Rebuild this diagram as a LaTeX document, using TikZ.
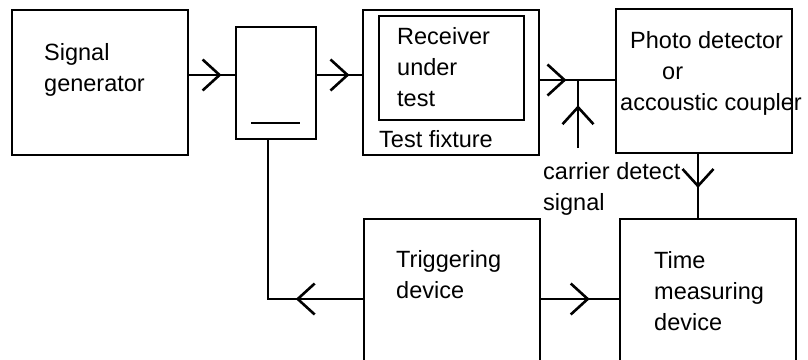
\documentclass[tikz,border=0pt]{standalone}
\usepackage{fontspec}
\setmainfont{Liberation Sans}
\usetikzlibrary{decorations.markings}

\tikzset{
  blk/.style={draw, line width=2.6pt, inner sep=0pt},
  txt/.style={inner sep=0pt, anchor=base west, align=left,
    font=\fontsize{23.5}{31}\selectfont},
  conn/.style={line width=2.6pt},
  mid/.style={postaction={decorate}, decoration={markings,
    mark=at position #1 with {\draw[line width=2.6pt] (-17pt,-15.5pt) -- (0,0) -- (-17pt,15.5pt);}}}
}

\begin{document}
\begin{tikzpicture}[x=1pt, y=-1pt]

  \path[use as bounding box, clip] (0,0) rectangle (808,359);

  % blocks
  \node[blk, minimum width=176pt, minimum height=145pt] (gen) at (100,82.5) {};
  \node[blk, minimum width=80pt, minimum height=112pt] (split) at (276,83) {};
  \node[blk, minimum width=176pt, minimum height=145pt] (fix) at (451,82.5) {};
  \node[blk, minimum width=145pt, minimum height=104pt] (rx) at (451.5,68) {};
  \node[blk, minimum width=176pt, minimum height=144pt] (photo) at (704,81) {};
  \node[blk, minimum width=176pt, minimum height=160pt] (trig) at (452,299) {};
  \node[blk, minimum width=176pt, minimum height=160pt] (time) at (708,299) {};

  \draw[conn] (251,123) -- (300,123);

  % labels (anchored on the last line)
  \node[txt] (gentxt) at (44,91) {Signal\\generator};
  \node[txt] (rxtxt) at (397,106) {Receiver\\under\\test};
  \node[txt] (fixtxt) at (379,147) {Test fixture};
  \node[txt] (phototxt) at (630,79) {Photo detector\\\hspace*{32pt}or};
  \node[txt] (coupler) at (620,110) {accoustic coupler};
  \node[txt] (cdtxt) at (543,210) {carrier detect\\signal};
  \node[txt] (trigtxt) at (396,298) {Triggering\\device};
  \node[txt] (timetxt) at (654,330) {Time\\measuring\\device};

  % connectors
  \coordinate (cd) at (578,148);
  \coordinate (jn) at (578,80);
  \draw[conn, mid=0.667] (gen.east |- 0,75) -- (split.west |- 0,75);
  \draw[conn, mid=0.68] (split.east |- 0,75) -- (fix.west |- 0,75);
  \draw[conn, mid=0.325] (fix.east |- jn) -- (photo.west |- jn);
  \draw[conn, mid=0.6] (cd) -- (jn);
  \draw[conn, mid=0.5] (photo.south -| 698,0) -- (time.north -| 698,0);
  \draw[conn, mid=0.6] (trig.east) -- (time.west);
  \draw[conn, mid=65pt] (trig.west) -- (268,299) -- (split.south -| 268,0);

\end{tikzpicture}
\end{document}
